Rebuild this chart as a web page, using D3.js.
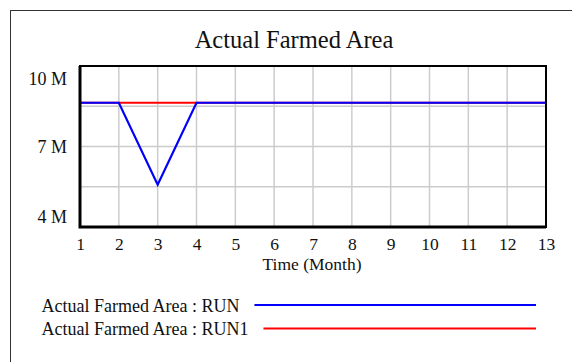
<!DOCTYPE html>
<html>
<head>
<meta charset="utf-8">
<script src="https://cdn.jsdelivr.net/npm/d3@7"></script>
<style>
  html, body { margin: 0; padding: 0; background: #fff; }
  svg { display: block; }
</style>
</head>
<body>
<script>
// Simulation output: Actual Farmed Area over months 1..13
const months = [1, 2, 3, 4, 5, 6, 7, 8, 9, 10, 11, 12, 13];
const runValues  = [8.63e6, 8.63e6, 5.58e6, 8.63e6, 8.63e6, 8.63e6, 8.63e6, 8.63e6, 8.63e6, 8.63e6, 8.63e6, 8.63e6, 8.63e6];
const run1Values = [8.63e6, 8.63e6, 8.63e6, 8.63e6, 8.63e6, 8.63e6, 8.63e6, 8.63e6, 8.63e6, 8.63e6, 8.63e6, 8.63e6, 8.63e6];
const yGridValues = [4e6, 5.5e6, 7e6, 8.5e6, 10e6];
const yLabelValues = [4e6, 7e6, 10e6];
const seriesNames = ["Actual Farmed Area : RUN", "Actual Farmed Area : RUN1"];
const seriesColors = ["#0000ff", "#ff0000"];

const FONT = '"Liberation Serif", "Times New Roman", Times, serif';
const W = 572, H = 362;
const plot = { left: 80, top: 66, right: 546, bottom: 227 };

const svg = d3.select("body").append("svg").attr("width", W).attr("height", H);

// outer frame (continues past the right and bottom edges)
svg.append("rect")
  .attr("x", 10.5).attr("y", 10.5)
  .attr("width", 600).attr("height", 400)
  .attr("fill", "none").attr("stroke", "#333").attr("stroke-width", 1);

const x = d3.scaleLinear().domain([1, 13]).range([plot.left, plot.right]);
const y = d3.scaleLinear().domain([4e6, 10e6]).range([plot.bottom, plot.top]);

// title
svg.append("text")
  .attr("x", 294).attr("y", 48)
  .attr("text-anchor", "middle")
  .style("font-family", FONT).style("font-size", "24.5px").style("fill", "#111")
  .text("Actual Farmed Area");

// grid
const grid = svg.append("g");
grid.selectAll("line.v").data(months.slice(1, -1)).enter().append("line")
  .attr("x1", d => x(d)).attr("x2", d => x(d))
  .attr("y1", plot.top).attr("y2", plot.bottom)
  .attr("stroke", "#cccccc").attr("stroke-width", 1.5);
grid.selectAll("line.h").data(yGridValues.slice(1, -1)).enter().append("line")
  .attr("x1", plot.left).attr("x2", plot.right)
  .attr("y1", d => y(d)).attr("y2", d => y(d))
  .attr("stroke", "#cccccc").attr("stroke-width", 1.5);

// data lines: RUN1 below, RUN on top
const line = d3.line().x((d, i) => x(months[i])).y(d => y(d));
svg.append("path").datum(run1Values)
  .attr("d", line).attr("fill", "none")
  .attr("stroke", seriesColors[1]).attr("stroke-width", 2.2);
svg.append("path").datum(runValues)
  .attr("d", line).attr("fill", "none")
  .attr("stroke", seriesColors[0]).attr("stroke-width", 2.2);

// plot border
svg.append("rect")
  .attr("x", plot.left).attr("y", plot.top)
  .attr("width", plot.right - plot.left).attr("height", plot.bottom - plot.top)
  .attr("fill", "none").attr("stroke", "#000").attr("stroke-width", 2);
svg.append("path")
  .attr("d", `M${plot.left},${plot.top} V${plot.bottom} H${plot.right}`)
  .attr("fill", "none").attr("stroke", "#000").attr("stroke-width", 3);

// x axis labels
const xAxis = d3.axisBottom(x).tickValues(months).tickSize(0).tickPadding(0)
  .tickFormat(d3.format("d"));
const gx = svg.append("g").attr("transform", `translate(0,${plot.bottom})`).call(xAxis);
gx.select(".domain").remove();
gx.selectAll("text").attr("y", 23).attr("dy", 0)
  .style("font-family", FONT).style("font-size", "17.5px").style("fill", "#111");

svg.append("text")
  .attr("x", 312).attr("y", 270)
  .attr("text-anchor", "middle")
  .style("font-family", FONT).style("font-size", "17.5px").style("fill", "#111")
  .text("Time (Month)");

// y axis labels (end labels pulled inside the plot extent)
const yAxis = d3.axisLeft(y).tickValues(yLabelValues).tickSize(0).tickPadding(13)
  .tickFormat(d => d3.format("d")(d / 1e6) + " M");
const gy = svg.append("g").attr("transform", `translate(${plot.left},0)`).call(yAxis);
gy.select(".domain").remove();
gy.selectAll("text")
  .style("font-family", FONT).style("font-size", "18px").style("fill", "#111")
  .attr("dy", 0)
  .attr("y", d => d === 10e6 ? 18 : d === 4e6 ? -5 : 6);

// legend
const legend = svg.append("g");
seriesNames.forEach((name, i) => {
  const ly = 311.5 + i * 23.5;
  const t = legend.append("text")
    .attr("x", 41.5).attr("y", ly)
    .style("font-family", FONT).style("font-size", "18px").style("fill", "#111")
    .text(name);
  const tw = t.node().getComputedTextLength();
  legend.append("line")
    .attr("x1", 41.5 + tw + 15).attr("x2", 536)
    .attr("y1", ly - 6.5).attr("y2", ly - 6.5)
    .attr("stroke", seriesColors[i]).attr("stroke-width", 2.2);
});
</script>
</body>
</html>
